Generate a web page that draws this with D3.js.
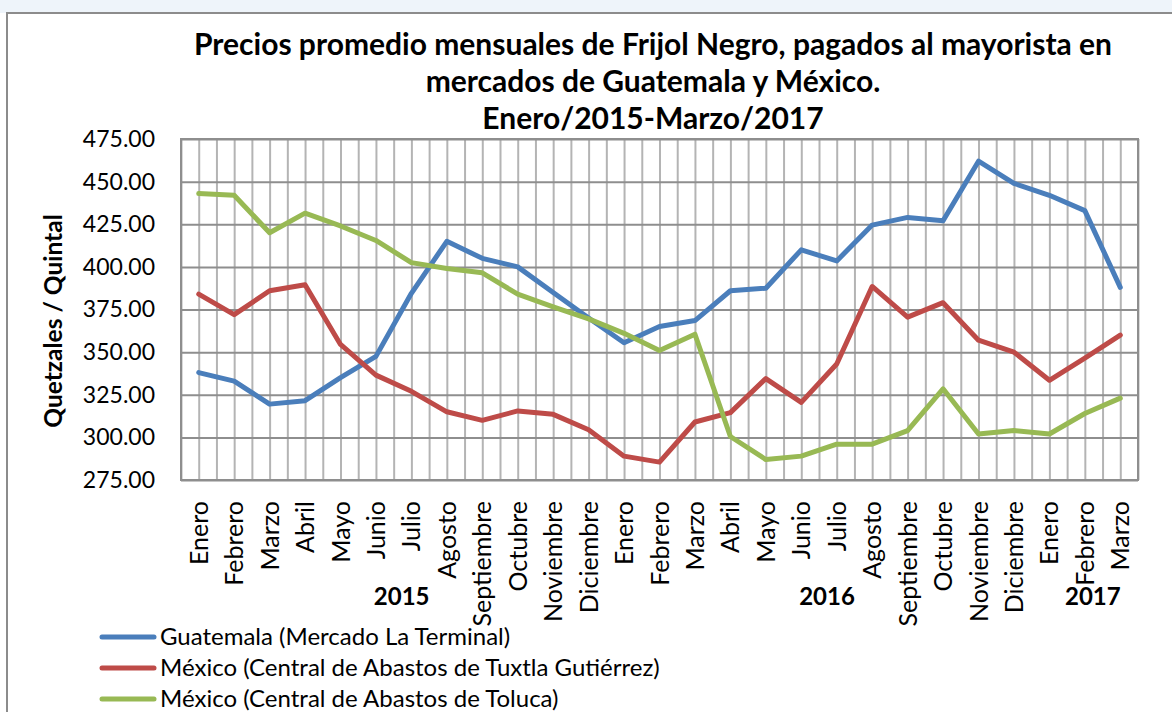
<!DOCTYPE html>
<html>
<head>
<meta charset="utf-8">
<script src="https://cdn.jsdelivr.net/npm/d3@7"></script>
<style>
  body { margin: 0; background: #fff; }
  svg { display: block; font-family: Lato, "Open Sans", sans-serif; }
</style>
</head>
<body>
<div id="chart"></div>
<script>
// Month labels for each point (Enero 2015 - Marzo 2017)
const months = [
  "Enero", "Febrero", "Marzo", "Abril", "Mayo", "Junio", "Julio", "Agosto",
  "Septiembre", "Octubre", "Noviembre", "Diciembre",
  "Enero", "Febrero", "Marzo", "Abril", "Mayo", "Junio", "Julio", "Agosto",
  "Septiembre", "Octubre", "Noviembre", "Diciembre",
  "Enero", "Febrero", "Marzo"
];
const years = ["2015", "2016", "2017"];
const monthsPerYear = [12, 12, 3];

const seriesNames = [
  "Guatemala (Mercado La Terminal)",
  "México (Central de Abastos de Tuxtla Gutiérrez)",
  "México (Central de Abastos de Toluca)"
];
const guatemala = [338, 333, 319.5, 321.5, 335, 347.5, 384.5, 415, 405, 400, 385, 370,
  355.5, 365, 368.5, 386, 387.5, 410, 403.5, 424.5, 429, 427, 462, 449, 442, 433, 388];
const tuxtla = [384, 372, 386, 389.5, 354.5, 336.5, 327, 315, 310, 315.5, 313.5, 304.5,
  289, 285.5, 309, 314.5, 334.5, 320.5, 343, 388.5, 370.5, 379, 357, 350, 333.5, 346.5, 360];
const toluca = [443, 442, 420, 431.5, 424, 415.5, 402.5, 399, 396.5, 384, 376.5, 369.5,
  361, 351, 360.5, 300.5, 287, 289, 296, 296, 304, 328.5, 302, 304, 302, 314, 323];
const colors = ["#4a7ebb", "#be4b48", "#98b954"];
const yTicks = [275, 300, 325, 350, 375, 400, 425, 450, 475];

const width = 1172, height = 712;
const margin = { top: 139, right: 34, bottom: 232, left: 181 };

const svg = d3.select("#chart").append("svg")
  .attr("width", width).attr("height", height);

// page background above the chart frame
svg.append("rect").attr("x", 0).attr("y", 0).attr("width", width).attr("height", 13)
  .attr("fill", "#eef4fa");
svg.append("rect").attr("x", 7).attr("y", 13).attr("width", width).attr("height", height)
  .attr("fill", "#fff").attr("stroke", "#8c8c8c").attr("stroke-width", 2);

const x = d3.scaleBand()
  .domain(d3.range(months.length))
  .range([margin.left, width - margin.right]);

// half-band grid positions
const xGrid = d3.scaleLinear()
  .domain([0, months.length])
  .range([margin.left, width - margin.right]);

const y = d3.scaleLinear()
  .domain([275, 475])
  .range([height - margin.bottom, margin.top]);

const plotH = height - margin.bottom - margin.top;
const plotW = width - margin.right - margin.left;

// vertical gridlines
svg.append("g")
  .attr("transform", `translate(0,${height - margin.bottom})`)
  .call(d3.axisBottom(xGrid).tickValues(d3.range(0, months.length + 0.5, 0.5)).tickSize(-plotH).tickFormat(""))
  .call(g => g.select(".domain").remove())
  .call(g => g.selectAll("line").attr("stroke", "#b4b4b4").attr("stroke-width", 2));

// horizontal gridlines + y labels
svg.append("g")
  .attr("transform", `translate(${margin.left},0)`)
  .call(d3.axisLeft(y).tickValues(yTicks).tickSize(-plotW).tickPadding(26).tickFormat(d3.format(".2f")))
  .call(g => g.select(".domain").remove())
  .call(g => g.selectAll("line").attr("stroke", "#8e8e8e").attr("stroke-width", 2))
  .call(g => g.selectAll("text").attr("fill", "#000").style("font-size", "23px")
    .style("font-family", "Lato, sans-serif"));

// plot border
svg.append("rect")
  .attr("x", margin.left).attr("y", margin.top)
  .attr("width", plotW).attr("height", plotH)
  .attr("fill", "none").attr("stroke", "#8e8e8e").attr("stroke-width", 2);

// x axis month labels
svg.append("g")
  .attr("transform", `translate(0,${height - margin.bottom})`)
  .call(d3.axisBottom(x).tickSize(0).tickFormat(i => months[i]))
  .call(g => g.select(".domain").remove())
  .call(g => g.selectAll("text")
    .attr("fill", "#000")
    .style("font-size", "25px")
    .style("font-family", "Lato, sans-serif")
    .attr("text-anchor", "end")
    .attr("transform", "rotate(-90)")
    .attr("x", -21)
    .attr("y", 0)
    .attr("dy", "0.36em"));

// year labels
let start = 0;
years.forEach((yr, k) => {
  const a = xGrid(start), b = xGrid(start + monthsPerYear[k]);
  svg.append("text")
    .attr("x", (a + b) / 2 + 8)
    .attr("y", 605)
    .attr("text-anchor", "middle")
    .style("font-size", "24px")
    .style("font-weight", "bold")
    .text(yr);
  start += monthsPerYear[k];
});

// lines
const line = d3.line()
  .x((d, i) => x(i) + x.bandwidth() / 2)
  .y(d => y(d));

[guatemala, tuxtla, toluca].forEach((s, k) => {
  svg.append("path")
    .datum(s)
    .attr("d", line)
    .attr("fill", "none")
    .attr("stroke", colors[k])
    .attr("stroke-width", 5)
    .attr("stroke-linejoin", "round")
    .attr("stroke-linecap", "round");
});

// y axis title
svg.append("text")
  .attr("transform", "translate(62,321) rotate(-90)")
  .attr("text-anchor", "middle")
  .style("font-size", "24.5px")
  .style("font-weight", "bold")
  .text("Quetzales / Quintal");

// chart title
const titleLines = [
  "Precios promedio mensuales de Frijol Negro, pagados al mayorista en",
  "mercados de Guatemala y México.",
  "Enero/2015-Marzo/2017"
];
svg.append("g").selectAll("text")
  .data(titleLines)
  .join("text")
  .attr("x", 653)
  .attr("y", (d, i) => 55 + i * 37)
  .attr("text-anchor", "middle")
  .style("font-size", "30px")
  .style("font-weight", "bold")
  .text(d => d);

// legend
const legend = svg.append("g").selectAll("g")
  .data(seriesNames)
  .join("g")
  .attr("transform", (d, i) => `translate(102,${637 + i * 31})`);

legend.append("line")
  .attr("x1", 0).attr("x2", 52)
  .attr("stroke", (d, i) => colors[i])
  .attr("stroke-width", 5)
  .attr("stroke-linecap", "round");

legend.append("text")
  .attr("x", 58)
  .attr("dy", "0.35em")
  .style("font-size", "24px")
  .text(d => d);
</script>
</body>
</html>
